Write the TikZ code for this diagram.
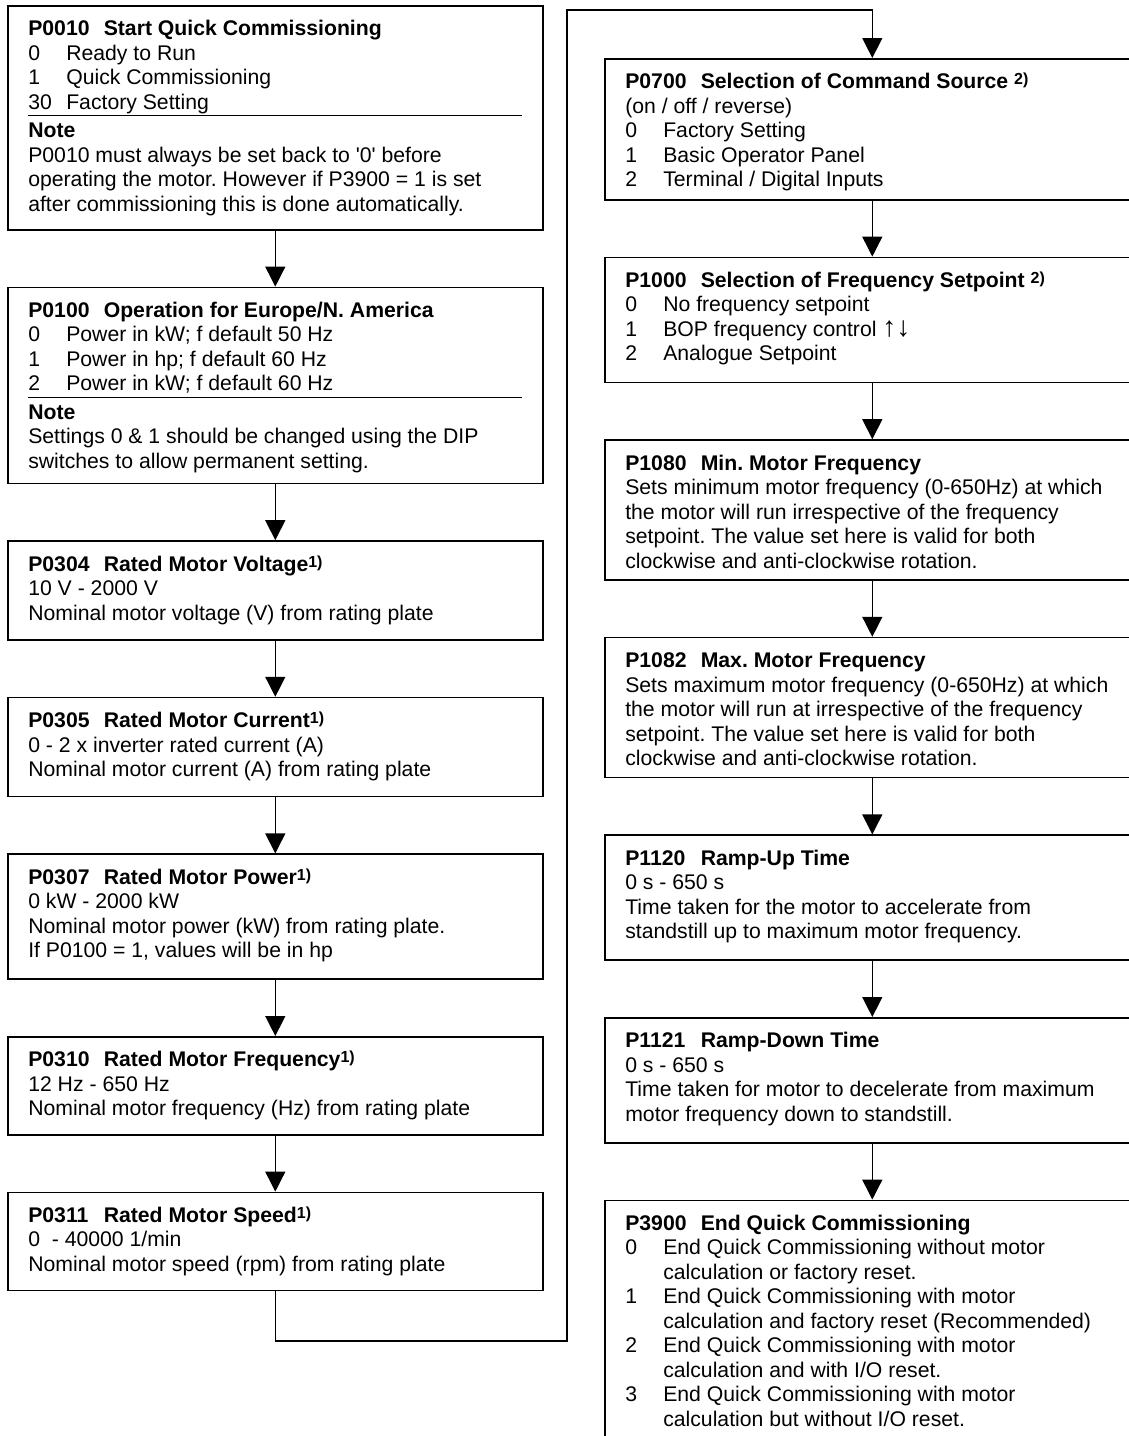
\documentclass[tikz,border=0pt]{standalone}
\usepackage{fontspec}
\setmainfont{Liberation Sans}
\newfontfamily\quotefont{Liberation Sans}
\usetikzlibrary{positioning,arrows.meta}

\newcommand{\ptitle}[2]{\strut\textbf{\makebox[75.5pt][l]{#1}#2}}
\newcommand{\pitem}[2]{\strut\makebox[38pt][l]{#1}#2}
\newcommand{\pcont}{\hspace*{38pt}}
\newcommand{\fnote}[1]{\raisebox{4pt}{\fontsize{16}{16}\selectfont\bfseries #1}}
\newcommand{\psep}{\par\kern-1.5pt\hrule height 1.3pt\kern4.2pt}
\newcommand{\pbody}[2]{\parbox[c][\dimexpr#1pt-25.7pt\relax][t]{494pt}{\raggedright #2}}
\newcommand{\squote}{{\quotefont'}}
\newcommand{\updown}{{\fontsize{28}{24.5}\selectfont ↑↓}}

\tikzset{
  pbox/.style={draw, line width=1.6pt, inner xsep=20.5pt, inner ysep=12.85pt,
    font=\fontsize{21.2}{24.5}\selectfont\frenchspacing},
  flow/.style={line width=1.4pt, -{Triangle[length=20pt,width=20pt]}},
}

\begin{document}
\begin{tikzpicture}[x=1pt, y=1pt, node distance=56pt]
  \path[use as bounding box, clip] (0,0) rectangle (1129,-1436);

  % Define nodes (left column)
  \node[pbox, anchor=north west] (p0010) at (7,-5) {\pbody{224}{%
    \ptitle{P0010}{Start Quick Commissioning}\\
    \pitem{0}{Ready to Run}\\
    \pitem{1}{Quick Commissioning}\\
    \pitem{30}{Factory Setting}\psep
    \strut\textbf{Note}\\
    P0010 must always be set back to \squote0\squote{} before\\
    operating the motor. However if P3900 = 1 is set\\
    after commissioning this is done automatically.}};
  \node[pbox, below=of p0010] (p0100) {\pbody{196}{%
    \ptitle{P0100}{Operation for Europe/N. America}\\
    \pitem{0}{Power in kW; f default 50 Hz}\\
    \pitem{1}{Power in hp; f default 60 Hz}\\
    \pitem{2}{Power in kW; f default 60 Hz}\psep
    \strut\textbf{Note}\\
    Settings 0 \& 1 should be changed using the DIP\\
    switches to allow permanent setting.}};
  \node[pbox, below=of p0100] (p0304) {\pbody{99}{%
    \ptitle{P0304}{Rated Motor Voltage\fnote{1)}}\\
    10 V - 2000 V\\
    Nominal motor voltage (V) from rating plate}};
  \node[pbox, below=of p0304] (p0305) {\pbody{99}{%
    \ptitle{P0305}{Rated Motor Current\fnote{1)}}\\
    0 - 2 x inverter rated current (A)\\
    Nominal motor current (A) from rating plate}};
  \node[pbox, below=of p0305] (p0307) {\pbody{125}{%
    \ptitle{P0307}{Rated Motor Power\fnote{1)}}\\
    0 kW - 2000 kW\\
    Nominal motor power (kW) from rating plate.\\
    If P0100 = 1, values will be in hp}};
  \node[pbox, below=of p0307] (p0310) {\pbody{98}{%
    \ptitle{P0310}{Rated Motor Frequency\fnote{1)}}\\
    12 Hz - 650 Hz\\
    Nominal motor frequency (Hz) from rating plate}};
  \node[pbox, below=of p0310] (p0311) {\pbody{98}{%
    \ptitle{P0311}{Rated Motor Speed\fnote{1)}}\\
    0\ \ - 40000 1/min\\
    Nominal motor speed (rpm) from rating plate}};

  % Define nodes (right column)
  \node[pbox, anchor=north west] (p0700) at (604,-58) {\pbody{141}{%
    \ptitle{P0700}{Selection of Command Source \fnote{2)}}\\
    (on / off / reverse)\\
    \pitem{0}{Factory Setting}\\
    \pitem{1}{Basic Operator Panel}\\
    \pitem{2}{Terminal / Digital Inputs}}};
  \node[pbox, below=of p0700] (p1000) {\pbody{125}{%
    \ptitle{P1000}{Selection of Frequency Setpoint \fnote{2)}}\\
    \pitem{0}{No frequency setpoint}\\
    \pitem{1}{BOP frequency control \updown}\\
    \pitem{2}{Analogue Setpoint}}};
  \node[pbox, below=of p1000] (p1080) {\pbody{140}{%
    \ptitle{P1080}{Min. Motor Frequency}\\
    Sets minimum motor frequency (0-650Hz) at which\\
    the motor will run irrespective of the frequency\\
    setpoint. The value set here is valid for both\\
    clockwise and anti-clockwise rotation.}};
  \node[pbox, below=of p1080] (p1082) {\pbody{140}{%
    \ptitle{P1082}{Max. Motor Frequency}\\
    Sets maximum motor frequency (0-650Hz) at which\\
    the motor will run at irrespective of the frequency\\
    setpoint. The value set here is valid for both\\
    clockwise and anti-clockwise rotation.}};
  \node[pbox, below=of p1082] (p1120) {\pbody{125}{%
    \ptitle{P1120}{Ramp-Up Time}\\
    0 s - 650 s\\
    Time taken for the motor to accelerate from\\
    standstill up to maximum motor frequency.}};
  \node[pbox, below=of p1120] (p1121) {\pbody{125}{%
    \ptitle{P1121}{Ramp-Down Time}\\
    0 s - 650 s\\
    Time taken for motor to decelerate from maximum\\
    motor frequency down to standstill.}};
  \node[pbox, below=of p1121] (p3900) {\pbody{290}{%
    \ptitle{P3900}{End Quick Commissioning}\\
    \pitem{0}{End Quick Commissioning without motor}\\
    \pcont calculation or factory reset.\\
    \pitem{1}{End Quick Commissioning with motor}\\
    \pcont calculation and factory reset (Recommended)\\
    \pitem{2}{End Quick Commissioning with motor}\\
    \pcont calculation and with I/O reset.\\
    \pitem{3}{End Quick Commissioning with motor}\\
    \pcont calculation but without I/O reset.}};

  % Connect the nodes
  \coordinate (bend) at (567,-1341);
  \coordinate (rise) at (567,-10);
  \draw[flow] (p0010) -- (p0100);
  \draw[flow] (p0100) -- (p0304);
  \draw[flow] (p0304) -- (p0305);
  \draw[flow] (p0305) -- (p0307);
  \draw[flow] (p0307) -- (p0310);
  \draw[flow] (p0310) -- (p0311);
  \draw[flow] (p0311.south) |- (bend) -- (rise) -| (p0700.north);
  \draw[flow] (p0700) -- (p1000);
  \draw[flow] (p1000) -- (p1080);
  \draw[flow] (p1080) -- (p1082);
  \draw[flow] (p1082) -- (p1120);
  \draw[flow] (p1120) -- (p1121);
  \draw[flow] (p1121) -- (p3900);
\end{tikzpicture}
\end{document}
